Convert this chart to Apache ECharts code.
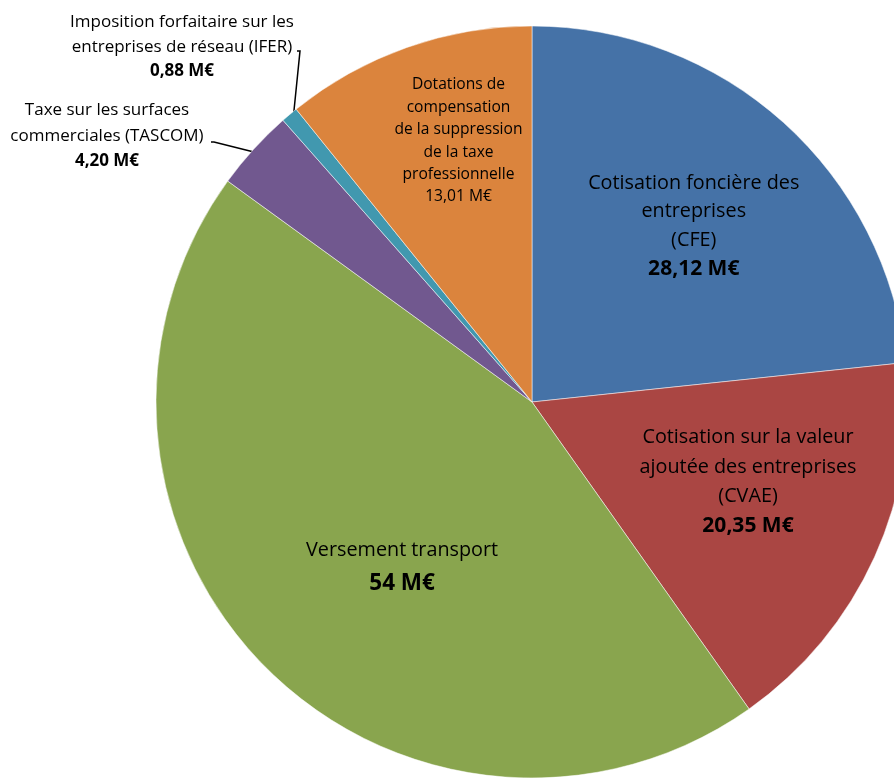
<!DOCTYPE html>
<html>
<head>
<meta charset="utf-8">
<script src="https://cdn.jsdelivr.net/npm/echarts@6/dist/echarts.min.js"></script>
<style>
  html, body { margin: 0; padding: 0; background: #fff; }
  #pie { width: 894px; height: 783px; }
</style>
</head>
<body>
<div id="pie"></div>
<script>
// slices, clockwise from 12 o'clock
const categories = [
  'Cotisation foncière des\nentreprises\n(CFE)',
  'Cotisation sur la valeur\najoutée des entreprises\n(CVAE)',
  'Versement transport',
  'Taxe sur les surfaces\ncommerciales (TASCOM)',
  'Imposition forfaitaire sur les\nentreprises de réseau (IFER)',
  'Dotations de\ncompensation\nde la suppression\nde la taxe\nprofessionnelle'
];
const values = [28.12, 20.35, 54, 4.20, 0.88, 13.01];
const colors = ['#4572A7', '#AA4643', '#89A54E', '#71588F', '#4198AF', '#DB843D'];

const cx = 532, cy = 402, R = 376;
const font = '"Open Sans", "Liberation Sans", sans-serif';

function fmt(v) {
  return (v % 1 === 0 ? String(v) : v.toFixed(2).replace('.', ',')) + ' M€';
}

// label look per slice
const labelStyles = [
  { fontSize: 19.8, lineHeight: 28.5, bold: true, size2: 21 },
  { fontSize: 19.8, lineHeight: 29.5, bold: true, size2: 21 },
  { fontSize: 19.8, lineHeight: 33, bold: true, size2: 22.5 },
  { fontSize: 17, lineHeight: 25.5, bold: true, size2: 17, outside: true },
  { fontSize: 17, lineHeight: 24.5, bold: true, size2: 17, outside: true },
  { fontSize: 15.6, lineHeight: 22.4, bold: false, size2: 15.6 }
];
// shift of inside labels from their default spot, and spot of the outside ones
const labelMoves = [
  { dx: 34, dy: -34 },
  { dx: 42, dy: 1 },
  { dx: 6, dy: 31 },
  { x: 107, y: 136, lineEnd: [211, 142] },
  { x: 182, y: 47, lineEnd: [297, 51] },
  { dx: -10, dy: -81 }
];

const total = values.reduce((a, b) => a + b, 0);
function midAngle(i) {
  let before = 0;
  for (let k = 0; k < i; k++) before += values[k];
  return (before + values[i] / 2) / total * Math.PI * 2;
}

const data = values.map((v, i) => {
  const s = labelStyles[i];
  return {
    name: categories[i],
    value: v,
    itemStyle: { color: colors[i] },
    label: {
      position: s.outside ? 'outside' : 'inside',
      fontSize: s.fontSize,
      lineHeight: s.lineHeight,
      rich: {
        v: {
          fontFamily: font,
          fontSize: s.size2,
          fontWeight: s.bold ? 'bold' : 'normal',
          lineHeight: s.lineHeight,
          color: '#000'
        }
      }
    },
    labelLine: { show: !!s.outside }
  };
});

const chart = echarts.init(document.getElementById('pie'));
chart.setOption({
  animation: false,
  backgroundColor: '#fff',
  series: [{
    type: 'pie',
    silent: true,
    center: [cx, cy],
    radius: R,
    startAngle: 90,
    clockwise: true,
    avoidLabelOverlap: false,
    itemStyle: { borderColor: 'rgba(255,255,255,0.5)', borderWidth: 1 },
    label: {
      show: true,
      color: '#000',
      fontFamily: font,
      align: 'center',
      formatter: p => p.name + '\n{v|' + fmt(p.value) + '}'
    },
    labelLine: {
      lineStyle: { color: '#000', width: 1.5 },
      length: 20,
      length2: 10
    },
    labelLayout: function (params) {
      const i = params.dataIndex;
      const m = labelMoves[i];
      if (m.x === undefined) return { dx: m.dx, dy: m.dy };
      const a = midAngle(i);
      const ax = cx + R * 0.985 * Math.sin(a);
      const ay = cy - R * 0.985 * Math.cos(a);
      return {
        x: m.x,
        y: m.y,
        align: 'center',
        verticalAlign: 'middle',
        labelLinePoints: [[ax, ay], [m.lineEnd[0] + 3, m.lineEnd[1]], m.lineEnd]
      };
    },
    data: data
  }]
});
</script>
</body>
</html>
